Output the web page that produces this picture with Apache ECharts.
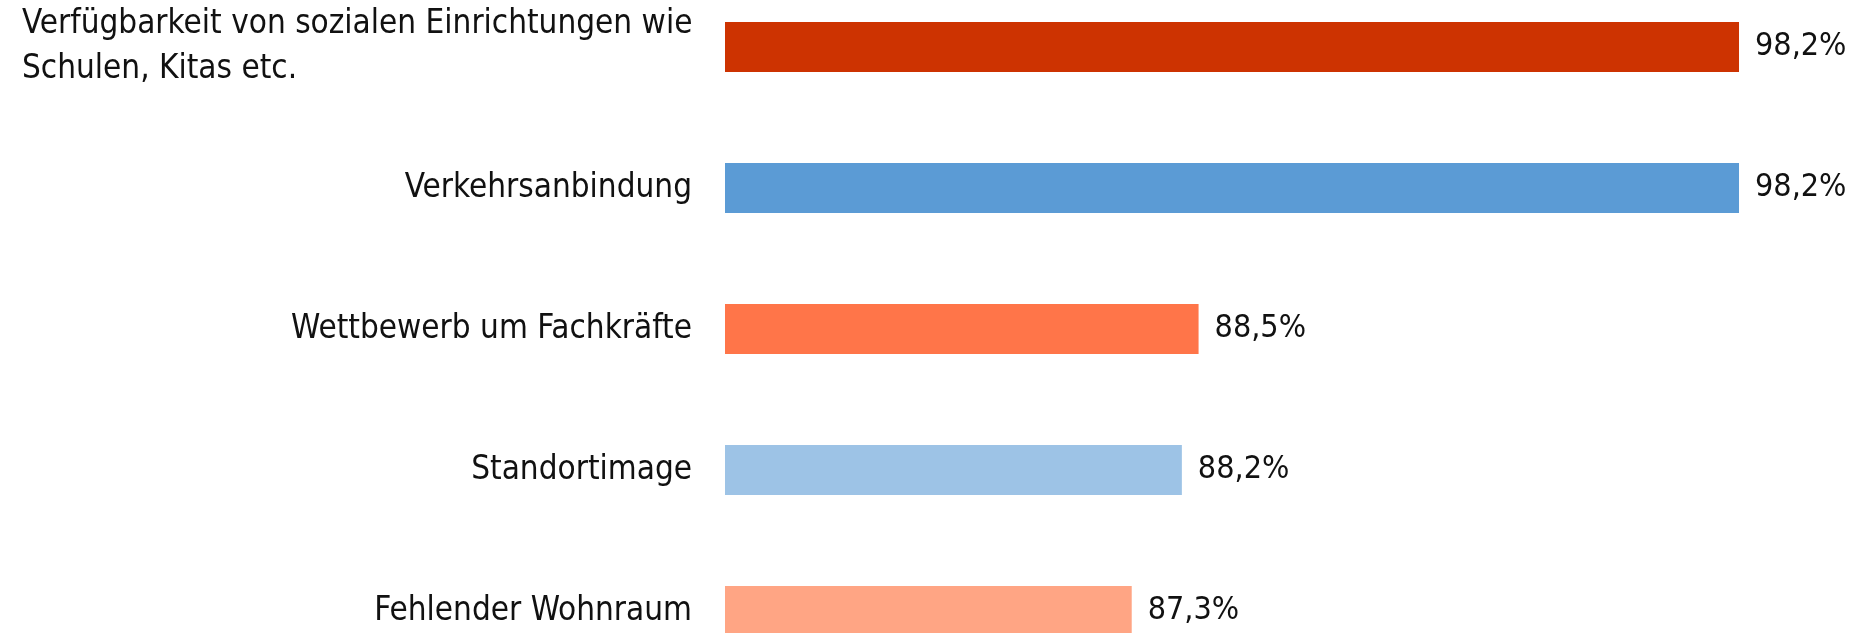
<!DOCTYPE html>
<html>
<head>
<meta charset="utf-8">
<script src="https://cdn.jsdelivr.net/npm/echarts@6.0.0/dist/echarts.min.js"></script>
</head>
<body style="margin:0; padding:0; background:#fff; overflow:hidden;">
<!-- der Chart ragt oben und unten aus dem Fenster heraus, wie im Original -->
<div id="chart" style="position:absolute; left:0; top:-24px; width:1857px; height:720px;"></div>
<script type="text/javascript">
// Kategorien von oben nach unten
var categories = [
	'Verfügbarkeit von sozialen Einrichtungen wie\nSchulen, Kitas etc.',
	'Verkehrsanbindung',
	'Wettbewerb um Fachkräfte',
	'Standortimage',
	'Fehlender Wohnraum'
];
var values = [98.2, 98.2, 88.5, 88.2, 87.3];
var colors = ['#CD3301', '#5B9BD5', '#FF7549', '#9DC3E6', '#FFA584'];

var FONT = '"Liberation Sans Narrow", "DejaVu Sans Condensed", sans-serif';

var myChart = echarts.init(document.getElementById('chart'));

var option = {
	animation: false,
	grid: {
		left: 725,
		right: 17.7,
		top: 0.5,
		height: 705
	},
	xAxis: {
		type: 'value',
		min: 80,
		max: 100,
		show: false
	},
	yAxis: {
		type: 'category',
		inverse: true,
		data: categories,
		axisLine: { show: false },
		axisTick: { show: false },
		axisLabel: {
			margin: 33,
			color: '#111',
			fontFamily: FONT,
			fontSize: 33,
			formatter: function (v) {
				var lines = v.split('\n');
				if (lines.length > 1) {
					return '{l|' + lines[0] + '}\n{l|' + lines[1] + '}';
				}
				return v;
			},
			rich: {
				l: {
					width: 670,
					align: 'left',
					fontFamily: FONT,
					fontSize: 33,
					lineHeight: 45,
					color: '#111'
				}
			}
		}
	},
	series: [{
		type: 'bar',
		barWidth: 50,
		data: values.map(function (v, i) {
			return { value: v, itemStyle: { color: colors[i] } };
		}),
		label: {
			show: true,
			position: 'right',
			distance: 16,
			color: '#111',
			fontFamily: FONT,
			fontSize: 32,
			formatter: function (p) {
				return p.value.toFixed(1).replace('.', ',') + '%';
			}
		}
	}]
};

myChart.setOption(option);
</script>
</body>
</html>
